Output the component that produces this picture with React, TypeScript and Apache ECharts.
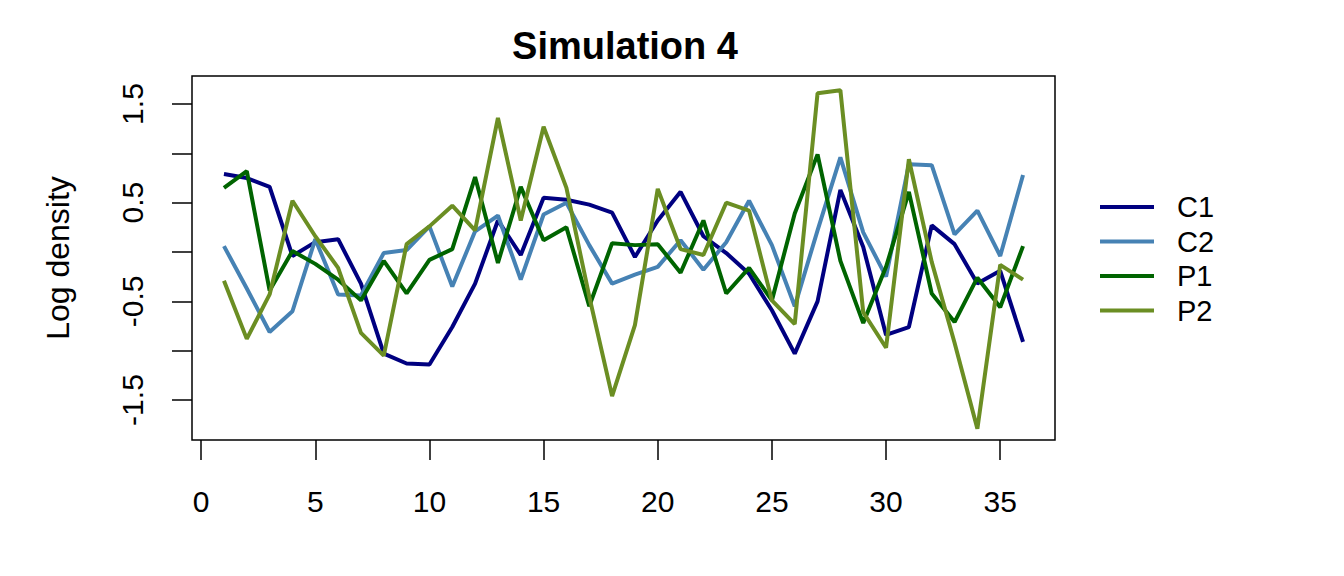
import React, { useEffect, useRef } from "react";
import * as echarts from "echarts";

const xValues = [1, 2, 3, 4, 5, 6, 7, 8, 9, 10, 11, 12, 13, 14, 15, 16, 17, 18, 19, 20, 21, 22, 23, 24, 25, 26, 27, 28, 29, 30, 31, 32, 33, 34, 35, 36];

const seriesNames = ["C1", "C2", "P1", "P2"];
const seriesColors = ["#000080", "#4682B4", "#006400", "#6B8E23"];

const c1 = [0.79, 0.75, 0.66, -0.04, 0.10, 0.13, -0.32, -1.03, -1.13, -1.14, -0.76, -0.32, 0.32, -0.03, 0.55, 0.53, 0.48, 0.40, -0.05, 0.32, 0.61, 0.16, -0.01, -0.22, -0.59, -1.03, -0.50, 0.63, 0.05, -0.84, -0.76, 0.27, 0.08, -0.32, -0.19, -0.91];
const c2 = [0.06, -0.37, -0.81, -0.60, 0.13, -0.43, -0.44, -0.01, 0.02, 0.26, -0.35, 0.21, 0.37, -0.28, 0.38, 0.50, 0.07, -0.32, -0.23, -0.15, 0.12, -0.18, 0.10, 0.52, 0.07, -0.55, 0.22, 0.96, 0.20, -0.25, 0.89, 0.88, 0.18, 0.42, -0.04, 0.78];
const p1 = [0.65, 0.82, -0.39, 0.01, -0.12, -0.28, -0.49, -0.09, -0.42, -0.08, 0.03, 0.76, -0.11, 0.66, 0.12, 0.25, -0.55, 0.09, 0.07, 0.08, -0.21, 0.32, -0.42, -0.16, -0.49, 0.39, 0.99, -0.09, -0.72, -0.15, 0.61, -0.42, -0.71, -0.26, -0.56, 0.06];
const p2 = [-0.29, -0.88, -0.43, 0.52, 0.16, -0.16, -0.82, -1.05, 0.08, 0.26, 0.47, 0.22, 1.36, 0.32, 1.27, 0.65, -0.45, -1.46, -0.74, 0.64, 0.03, -0.03, 0.50, 0.42, -0.49, -0.73, 1.61, 1.64, -0.61, -0.97, 0.94, -0.10, -0.92, -1.79, -0.13, -0.28];
const seriesValues = [c1, c2, p1, p2];

const xTicks = [0, 5, 10, 15, 20, 25, 30, 35];
const yTicks = [-1.5, -1, -0.5, 0, 0.5, 1, 1.5];
const yTickLabels = [-1.5, -0.5, 0.5, 1.5];

const FONT = "'Liberation Sans', Arial, Helvetica, sans-serif";

export default function App() {
  const ref = useRef<HTMLDivElement>(null);
  useEffect(() => {
    if (!ref.current) return;
    const chart = echarts.init(ref.current, undefined, { renderer: "svg" });
    chart.setOption({
      animation: false,
      backgroundColor: "#ffffff",
      title: {
        text: "Simulation 4",
        left: 620,
        top: 22,
        textAlign: "center",
        textStyle: { fontFamily: FONT, fontSize: 38, fontWeight: "bold", color: "#000" },
      },
      legend: {
        orient: "vertical",
        left: 1100,
        top: 192,
        padding: 0,
        itemWidth: 54,
        itemHeight: 4,
        itemGap: 4.5,
        icon: "rect",
        data: seriesNames,
        textStyle: { fontFamily: FONT, fontSize: 29, color: "#000", lineHeight: 30, padding: [0, 0, 0, 18] },
      },
      grid: {
        left: 192,
        right: 289,
        top: 76,
        bottom: 136,
        show: true,
        borderColor: "#000",
        borderWidth: 1.5,
        backgroundColor: "transparent",
      },
      xAxis: {
        type: "value",
        min: -0.4,
        max: 37.4,
        axisLine: { show: false, onZero: false },
        splitLine: { show: false },
        axisTick: {
          show: true,
          customValues: xTicks,
          length: 20,
          lineStyle: { color: "#000", width: 1.5 },
        },
        axisLabel: {
          customValues: xTicks,
          margin: 46,
          fontFamily: FONT,
          fontSize: 30,
          color: "#000",
        },
      },
      yAxis: {
        type: "value",
        min: -1.905,
        max: 1.784,
        name: "Log density",
        nameLocation: "middle",
        nameGap: 118,
        nameTextStyle: { fontFamily: FONT, fontSize: 32, color: "#000" },
        axisLine: { show: false, onZero: false },
        splitLine: { show: false },
        axisTick: {
          show: true,
          customValues: yTicks,
          length: 20,
          lineStyle: { color: "#000", width: 1.5 },
        },
        axisLabel: {
          customValues: yTickLabels,
          rotate: 90,
          margin: 45,
          fontFamily: FONT,
          fontSize: 30,
          color: "#000",
          formatter: (v: number) => String(v),
        },
      },
      series: seriesNames.map((name, i) => ({
        name,
        type: "line",
        data: xValues.map((x, j) => [x, seriesValues[i][j]]),
        symbol: "none",
        showSymbol: false,
        color: seriesColors[i],
        lineStyle: { color: seriesColors[i], width: 4 },
        z: 2 + i,
      })),
    });
    return () => chart.dispose();
  }, []);
  return <div ref={ref} style={{ position: "absolute", left: 0, top: 0, width: 1344, height: 576 }} />;
}
